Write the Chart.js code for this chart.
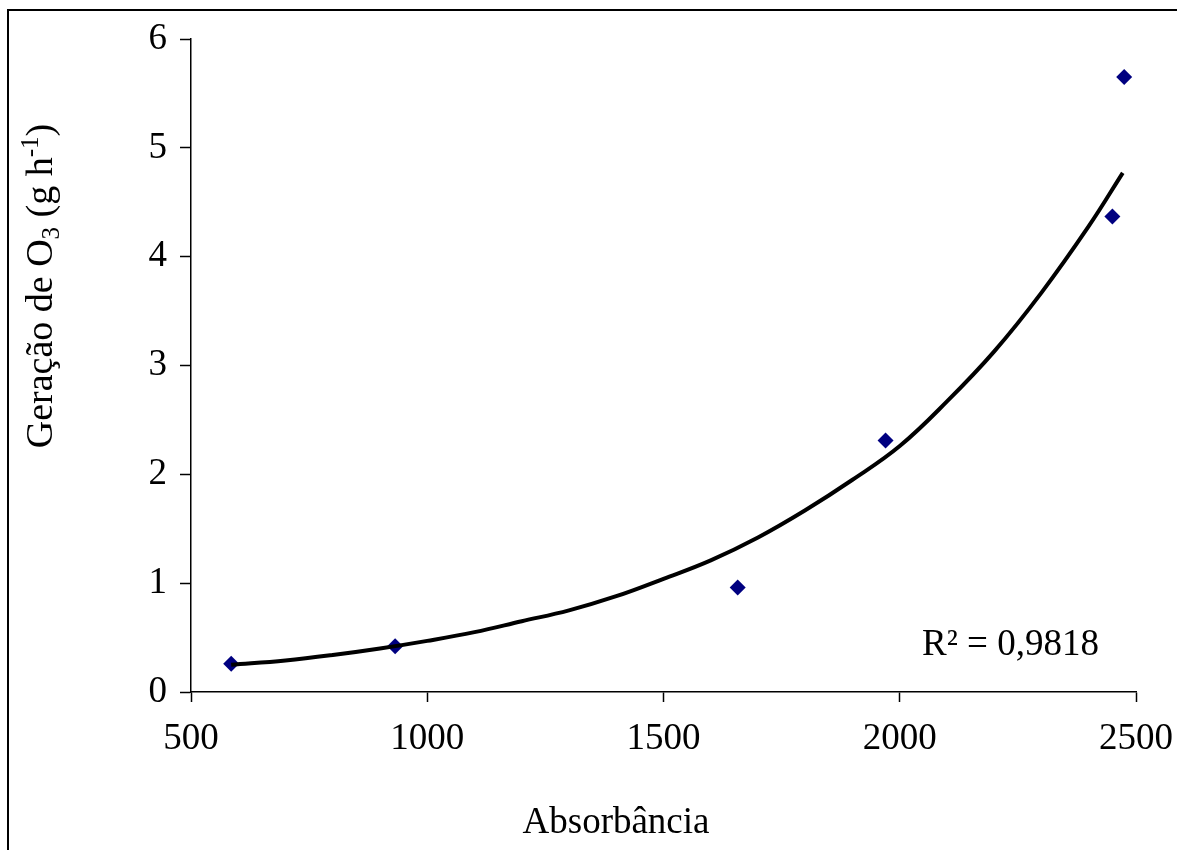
<!DOCTYPE html>
<html>
<head>
<meta charset="utf-8">
<script src="https://cdn.jsdelivr.net/npm/chart.js@4"></script>
<style>
  html, body { margin: 0; padding: 0; background: #ffffff; }
  #wrap { width: 1177px; height: 850px; position: relative; }
</style>
</head>
<body>
<div id="wrap"><canvas id="c" width="1177" height="850"></canvas></div>
<script>
// ---- data ----
const absorbance = [585, 932, 1657, 1970, 2450, 2475];
const ozoneGen   = [0.26, 0.42, 0.96, 2.31, 4.37, 5.65];
// exponential trend line
const trendX = [585, 700, 800, 900, 1000, 1100, 1200, 1300, 1400, 1500, 1600, 1700, 1800, 1900, 2000, 2100, 2200, 2300, 2400, 2472];
const trendY = [0.25, 0.29, 0.34, 0.40, 0.47, 0.55, 0.65, 0.75, 0.88, 1.04, 1.21, 1.42, 1.67, 1.95, 2.26, 2.67, 3.13, 3.67, 4.28, 4.77];
const xTicks = [500, 1000, 1500, 2000, 2500];
const yTicks = [0, 1, 2, 3, 4, 5, 6];
const r2Label = 'R² = 0,9818';
const xTitle = 'Absorbância';
const yTitleParts = [['Geração de O', 'n'], ['3', 'sub'], [' (g h', 'n'], ['-1', 'sup'], [')', 'n']];

const FONT = '"Liberation Serif", "Times New Roman", serif';
const FS = 37;

const scatterPts = absorbance.map((x, i) => ({ x: x, y: ozoneGen[i] }));
const trendPts = trendX.map((x, i) => ({ x: x, y: trendY[i] }));

const decor = {
  id: 'decor',
  afterDraw(chart) {
    const ctx = chart.ctx;
    ctx.save();
    // outer frame (top & left edges visible)
    ctx.strokeStyle = '#000';
    ctx.lineWidth = 2;
    ctx.beginPath();
    ctx.moveTo(8, 850);
    ctx.lineTo(8, 10);
    ctx.lineTo(1177, 10);
    ctx.stroke();

    ctx.fillStyle = '#000';
    // x title
    ctx.font = FS + 'px ' + FONT;
    ctx.textAlign = 'center';
    ctx.textBaseline = 'alphabetic';
    ctx.fillText(xTitle, 616, 833);

    // R² label
    ctx.textAlign = 'left';
    ctx.fillText(r2Label, 922, 655);

    // y title with sub/superscripts
    const big = 38, small = 25;
    let total = 0;
    yTitleParts.forEach(([t, k]) => {
      ctx.font = (k === 'n' ? big : small) + 'px ' + FONT;
      total += ctx.measureText(t).width;
    });
    ctx.translate(52, 286);
    ctx.rotate(-Math.PI / 2);
    let cx = -total / 2;
    yTitleParts.forEach(([t, k]) => {
      ctx.font = (k === 'n' ? big : small) + 'px ' + FONT;
      const dy = k === 'sub' ? 7 : (k === 'sup' ? -14 : 0);
      ctx.fillText(t, cx, dy);
      cx += ctx.measureText(t).width;
    });
    ctx.restore();
  }
};

new Chart(document.getElementById('c'), {
  type: 'scatter',
  data: {
    datasets: [
      {
        label: 'Tendência',
        data: trendPts,
        showLine: true,
        borderColor: '#000000',
        borderWidth: 4,
        pointRadius: 0,
        tension: 0.4,
        fill: false,
        order: 0
      },
      {
        label: 'Geração',
        data: scatterPts,
        pointStyle: 'rectRot',
        pointRadius: 8,
        pointBackgroundColor: '#000080',
        pointBorderColor: '#000080',
        pointBorderWidth: 0,
        showLine: false,
        order: 1
      }
    ]
  },
  options: {
    responsive: false,
    animation: false,
    devicePixelRatio: 1,
    layout: { padding: { left: 0, right: 41, top: 39, bottom: 0 } },
    plugins: { legend: { display: false }, tooltip: { enabled: false } },
    scales: {
      x: {
        type: 'linear',
        min: 500, max: 2500,
        afterBuildTicks(scale) { scale.ticks = xTicks.map(v => ({ value: v })); },
        afterFit(scale) { scale.height = 158; scale.paddingRight = 0; scale.paddingLeft = 0; },
        grid: { drawOnChartArea: false, drawTicks: true, tickLength: 10, tickColor: '#000', tickWidth: 1.5 },
        border: { display: true, color: '#000', width: 1.5 },
        ticks: { color: '#000', font: { family: FONT, size: FS }, padding: 15, maxRotation: 0,
                 callback: v => String(v) }
      },
      y: {
        type: 'linear',
        min: 0, max: 6,
        afterBuildTicks(scale) { scale.ticks = yTicks.map(v => ({ value: v })); },
        afterFit(scale) { scale.width = 191; },
        grid: { drawOnChartArea: false, drawTicks: true, tickLength: 11, tickColor: '#000', tickWidth: 1.5 },
        border: { display: true, color: '#000', width: 1.5 },
        ticks: { color: '#000', font: { family: FONT, size: FS }, padding: 13,
                 callback: v => String(v) }
      }
    }
  },
  plugins: [decor]
});
</script>
</body>
</html>
